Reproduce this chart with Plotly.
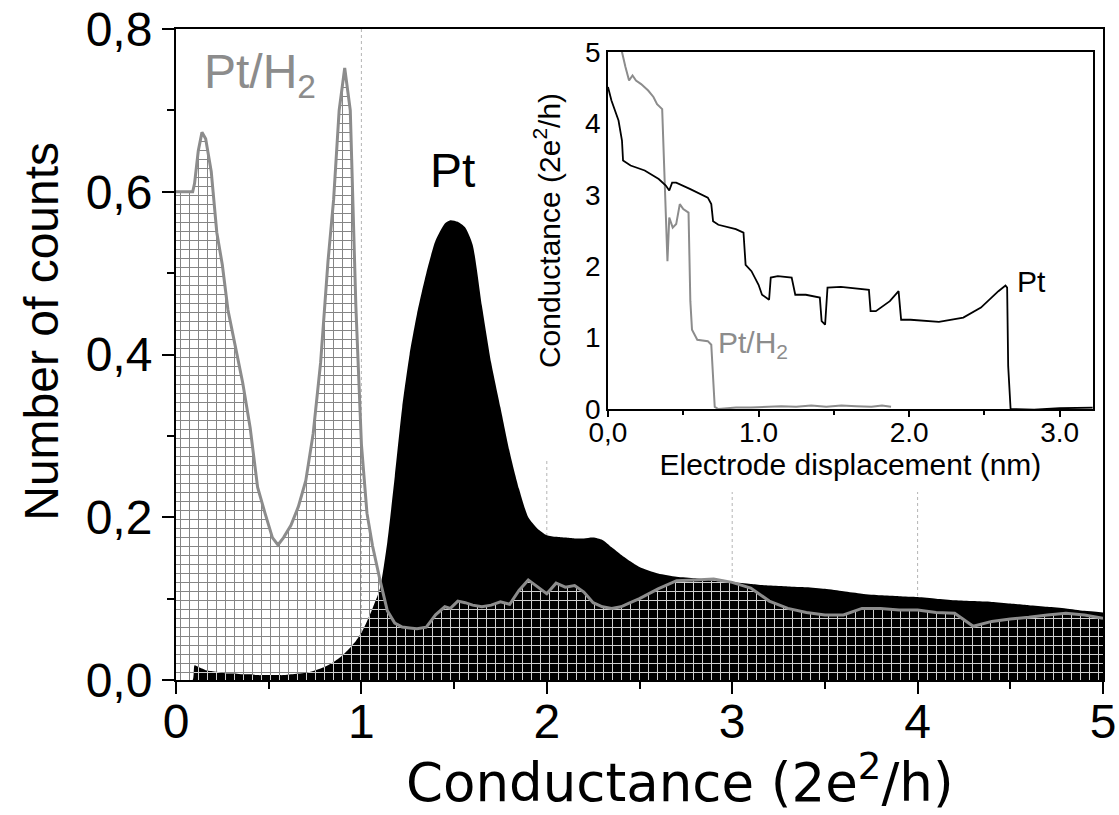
import numpy as np
import plotly.graph_objects as go

# ---------------- main histogram data ----------------
cond = [0, 0.05, 0.09, 0.1, 0.12, 0.14, 0.16, 0.19, 0.22, 0.25, 0.28, 0.32, 0.36, 0.40,
        0.44, 0.48, 0.52, 0.55, 0.58, 0.62, 0.66, 0.70, 0.74, 0.78, 0.82, 0.85, 0.88,
        0.91, 0.94, 0.97, 1.0, 1.03, 1.06, 1.1, 1.14, 1.18, 1.22, 1.26, 1.30, 1.35,
        1.40, 1.45, 1.48, 1.52, 1.56, 1.60, 1.65, 1.70, 1.75, 1.80, 1.85, 1.90, 1.95,
        2.0, 2.05, 2.1, 2.15, 2.2, 2.25, 2.3, 2.35, 2.4, 2.45, 2.5, 2.6, 2.7, 2.8,
        2.9, 3.0, 3.1, 3.2, 3.3, 3.4, 3.5, 3.6, 3.7, 3.8, 3.9, 4.0, 4.1, 4.2, 4.3,
        4.4, 4.5, 4.6, 4.7, 4.8, 4.9, 5.0]

pt_counts = [0, 0, 0, 0.018, 0.016, 0.014, 0.012, 0.011, 0.010, 0.009, 0.008, 0.008,
             0.007, 0.007, 0.006, 0.006, 0.006, 0.006, 0.006, 0.007, 0.008, 0.009,
             0.011, 0.014, 0.018, 0.022, 0.027, 0.033, 0.040, 0.048, 0.058, 0.072,
             0.088, 0.112, 0.170, 0.250, 0.335, 0.400, 0.450, 0.500, 0.540, 0.561,
             0.565, 0.563, 0.556, 0.535, 0.460, 0.390, 0.335, 0.280, 0.235, 0.200,
             0.186, 0.178, 0.176, 0.175, 0.174, 0.174, 0.175, 0.172, 0.163, 0.154,
             0.146, 0.139, 0.131, 0.127, 0.125, 0.122, 0.120, 0.118, 0.116, 0.115,
             0.114, 0.112, 0.109, 0.106, 0.104, 0.103, 0.102, 0.100, 0.098, 0.097,
             0.096, 0.094, 0.092, 0.090, 0.088, 0.085, 0.083]

pth2_counts = [0.600, 0.600, 0.600, 0.610, 0.650, 0.673, 0.665, 0.625, 0.550, 0.510,
               0.455, 0.410, 0.365, 0.310, 0.237, 0.205, 0.175, 0.166, 0.175, 0.190,
               0.213, 0.245, 0.303, 0.390, 0.515, 0.590, 0.700, 0.752, 0.700, 0.460,
               0.290, 0.205, 0.165, 0.123, 0.085, 0.070, 0.065, 0.064, 0.063, 0.065,
               0.080, 0.090, 0.088, 0.097, 0.095, 0.092, 0.090, 0.092, 0.096, 0.093,
               0.110, 0.123, 0.115, 0.106, 0.119, 0.114, 0.116, 0.108, 0.095, 0.090,
               0.088, 0.090, 0.095, 0.100, 0.112, 0.122, 0.123, 0.124, 0.120, 0.113,
               0.097, 0.088, 0.083, 0.080, 0.080, 0.088, 0.088, 0.086, 0.086, 0.083,
               0.082, 0.066, 0.072, 0.075, 0.077, 0.080, 0.082, 0.080, 0.076]

main_xticks = [0, 1, 2, 3, 4, 5]
main_yticks = [0, 0.2, 0.4, 0.6, 0.8]
main_yticktext = ["0,0", "0,2", "0,4", "0,6", "0,8"]
grid_x = [1, 2, 3, 4]
grid_top = [0.8, 0.27, 0.231, 0.231]

# ---------------- inset: conductance traces ----------------
disp_pt = [0.0, 0.023, 0.07, 0.093, 0.10, 0.15, 0.244, 0.337, 0.384, 0.407, 0.426,
           0.453, 0.547, 0.616, 0.663, 0.686, 0.698, 0.733, 0.849, 0.90, 0.914, 0.953,
           1.0, 1.023, 1.07, 1.081, 1.128, 1.22, 1.244, 1.314, 1.407, 1.419, 1.442,
           1.458, 1.547, 1.733, 1.744, 1.779, 1.872, 1.93, 1.947, 2.01, 2.198, 2.36,
           2.477, 2.593, 2.64, 2.651, 2.658, 2.674, 2.83, 3.0, 3.22]
g_pt = [4.51, 4.32, 4.04, 3.76, 3.48, 3.41, 3.34, 3.22, 3.13, 3.06, 3.17, 3.17, 3.08,
        3.01, 2.96, 2.87, 2.63, 2.58, 2.52, 2.47, 2.02, 1.93, 1.74, 1.60, 1.53, 1.84,
        1.86, 1.84, 1.60, 1.60, 1.56, 1.23, 1.18, 1.70, 1.71, 1.67, 1.37, 1.37, 1.51,
        1.65, 1.25, 1.25, 1.22, 1.28, 1.42, 1.65, 1.73, 1.70, 0.6, 0.0, -0.01, 0.01, 0.02]

disp_h2 = [0.0, 0.093, 0.116, 0.14, 0.163, 0.186, 0.22, 0.267, 0.302, 0.326, 0.36,
           0.372, 0.384, 0.395, 0.407, 0.43, 0.453, 0.477, 0.50, 0.535, 0.547, 0.558,
           0.593, 0.663, 0.686, 0.709, 0.733, 0.85, 0.95, 1.05, 1.15, 1.25, 1.35, 1.45,
           1.55, 1.65, 1.75, 1.82, 1.88]
g_h2 = [5.6, 5.0, 4.79, 4.60, 4.67, 4.60, 4.55, 4.46, 4.37, 4.27, 4.20, 3.38, 2.54,
        2.07, 2.68, 2.54, 2.59, 2.87, 2.80, 2.75, 1.51, 1.11, 0.97, 0.95, 0.90, 0.03,
        0.0, 0.02, 0.02, 0.03, 0.04, 0.03, 0.05, 0.03, 0.05, 0.04, 0.03, 0.05, 0.03]

inset_xticks = [0, 1, 2, 3]
inset_xticktext = ["0,0", "1.0", "2.0", "3.0"]
inset_yticks = [0, 1, 2, 3, 4, 5]

FONT = "Liberation Sans, Arial, Helvetica, sans-serif"
WIDE_FONT = "DejaVu Sans, Liberation Sans, sans-serif"
GRAY = "#8c8c8c"

overlap = np.minimum(np.array(pt_counts), np.array(pth2_counts))

fig = go.Figure()

# Pt/H2 hatched histogram (grey grid)
fig.add_trace(go.Scatter(
    x=cond, y=pth2_counts, mode="lines", fill="tozeroy",
    line=dict(width=0, color=GRAY), fillcolor="rgba(0,0,0,0)",
    fillpattern=dict(shape="+", fgcolor="#858585", bgcolor="rgba(0,0,0,0)",
                     size=9, solidity=0.21, fillmode="replace"),
    showlegend=False, hoverinfo="skip"))
# Pt black histogram
fig.add_trace(go.Scatter(
    x=cond, y=pt_counts, mode="lines", fill="tozeroy", line_shape="spline",
    line=dict(width=0, color="black", smoothing=0.6), fillcolor="black",
    showlegend=False, hoverinfo="skip"))
# grid visible through black where both overlap
fig.add_trace(go.Scatter(
    x=cond, y=overlap, mode="lines", fill="tozeroy",
    line=dict(width=0, color="rgba(0,0,0,0)"), fillcolor="rgba(0,0,0,0)",
    fillpattern=dict(shape="+", fgcolor="#cfcfcf", bgcolor="rgba(0,0,0,0)",
                     size=9, solidity=0.21, fillmode="replace"),
    showlegend=False, hoverinfo="skip"))
# Pt/H2 outline
fig.add_trace(go.Scatter(
    x=cond, y=pth2_counts, mode="lines", line=dict(width=3, color=GRAY),
    showlegend=False, hoverinfo="skip"))

# inset traces
fig.add_trace(go.Scatter(
    x=disp_h2, y=g_h2, mode="lines", line=dict(width=2, color=GRAY),
    xaxis="x2", yaxis="y2", showlegend=False, hoverinfo="skip"))
fig.add_trace(go.Scatter(
    x=disp_pt, y=g_pt, mode="lines", line=dict(width=1.8, color="black"),
    xaxis="x2", yaxis="y2", showlegend=False, hoverinfo="skip"))

# dotted reference lines of the main plot
for gx, gt in zip(grid_x, grid_top):
    fig.add_shape(type="line", xref="x", yref="y", x0=gx, x1=gx, y0=0, y1=gt,
                  line=dict(color="#b4b4b4", width=1, dash="dot"), layer="below")

axis_common = dict(showline=True, linecolor="black", mirror=True, showgrid=False,
                   zeroline=False, ticks="outside", tickcolor="black",
                   automargin=False)

fig.update_layout(
    width=1119, height=815,
    margin=dict(l=176, r=16, t=29, b=135),
    paper_bgcolor="white", plot_bgcolor="white",
    font=dict(family=FONT, color="black"),
    xaxis=dict(**axis_common, domain=[0, 1], range=[0, 5], tickvals=main_xticks,
               linewidth=2, ticklen=12, tickwidth=2, ticklabelstandoff=-14,
               minor=dict(ticks="outside", ticklen=7, tickwidth=2, dtick=0.5, tick0=0,
                          tickcolor="black"),
               tickfont=dict(size=48, family=FONT)),
    yaxis=dict(**axis_common, domain=[0, 1], range=[0, 0.8], tickvals=main_yticks,
               ticktext=main_yticktext, linewidth=2, ticklen=12, tickwidth=2,
               minor=dict(ticks="outside", ticklen=7, tickwidth=2, dtick=0.1, tick0=0,
                          tickcolor="black"),
               tickfont=dict(size=48, family=FONT)),
    xaxis2=dict(**axis_common, domain=[0.466, 0.989], anchor="y2", range=[0, 3.22],
                tickvals=inset_xticks, ticktext=inset_xticktext, linewidth=1.5,
                ticklen=6, tickwidth=1.5, ticklabelstandoff=-8,
                minor=dict(ticks="outside", ticklen=4, tickwidth=1.5, dtick=0.5,
                           tick0=0, tickcolor="black"),
                tickfont=dict(size=28, family=FONT),
                title=dict(text="Electrode displacement (nm)",
                           font=dict(size=30, family=FONT), standoff=2)),
    yaxis2=dict(showline=True, linecolor="black", mirror=True, showgrid=False,
                zeroline=False, ticks="", domain=[0.4163, 0.9647], anchor="x2",
                range=[0, 5], tickvals=inset_yticks, linewidth=1.5, automargin=False,
                tickfont=dict(size=28, family=FONT),
                title=dict(text="Conductance (2e<sup>2</sup>/h)",
                           font=dict(size=30, family=FONT), standoff=16)),
    annotations=[
        dict(text="Conductance (2e<sup>2</sup>/h)", x=0.5437, y=-0.152, xref="paper",
             yref="paper", xanchor="center", yanchor="middle", showarrow=False,
             font=dict(size=53, color="black", family=WIDE_FONT)),
        dict(text="Number of counts", x=-0.1445, y=0.535, xref="paper",
             yref="paper", xanchor="center", yanchor="middle", textangle=-90,
             showarrow=False, font=dict(size=48, color="black", family=FONT)),
        dict(text="Pt/H<sub>2</sub>", x=0.14, y=0.744, xref="x", yref="y",
             xanchor="left", yanchor="middle", showarrow=False,
             font=dict(size=48, color=GRAY, family=FONT)),
        dict(text="Pt", x=1.49, y=0.626, xref="x", yref="y", xanchor="center",
             yanchor="middle", showarrow=False, font=dict(size=48, color="black",
                                                          family=FONT)),
        dict(text="Pt", x=2.7, y=1.79, xref="x2", yref="y2", xanchor="left",
             yanchor="middle", showarrow=False, font=dict(size=30, color="black",
                                                          family=FONT)),
        dict(text="Pt/H<sub>2</sub>", x=0.72, y=0.9, xref="x2", yref="y2",
             xanchor="left", yanchor="middle", showarrow=False,
             font=dict(size=30, color=GRAY, family=FONT)),
    ],
)

fig.write_html("out.html", config={"displayModeBar": False},
               post_script="document.body.style.margin='0px';")
